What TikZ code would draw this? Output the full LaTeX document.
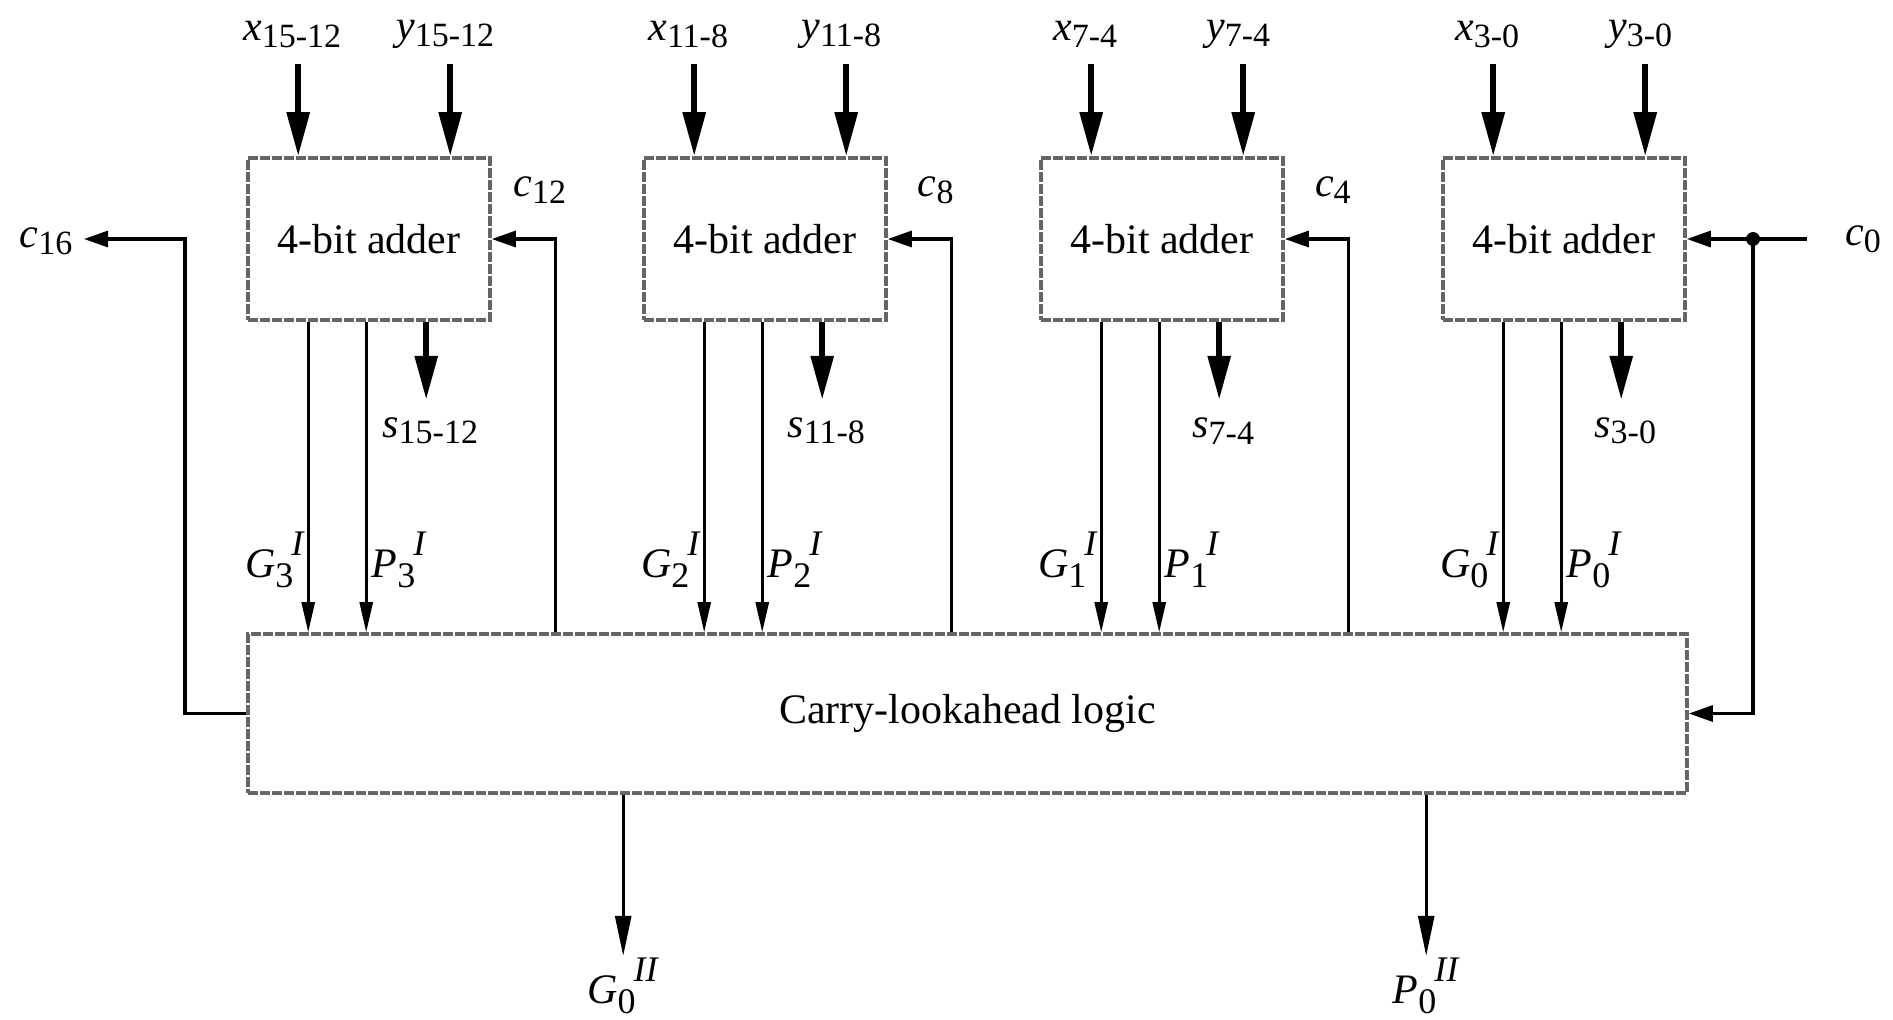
\documentclass[tikz,border=0pt]{standalone}
\usepackage{fontspec}
\setmainfont{Liberation Serif}
\usetikzlibrary{arrows.meta,calc}
\newcommand\subx[1]{\raisebox{-0.35ex}{\fontsize{17}{17}\selectfont #1}}
\newcommand\lab[2]{\textit{#1}\subx{#2}}
\newcommand\gp[3]{\textit{#1}\raisebox{-0.55ex}{\fontsize{18}{18}\selectfont #2}\kern-1pt\raisebox{1.15ex}{\fontsize{18}{18}\selectfont\textit{#3}}}
\begin{document}
\begin{tikzpicture}[x=0.5pt,y=-0.5pt,
  every node/.style={font=\fontsize{21}{25}\selectfont, inner sep=0pt},
  adder/.style={draw=black!60, line width=1.8pt, dash pattern=on 5pt off 1pt, minimum width=121pt, minimum height=81pt},
  cla/.style={adder, minimum width=719.5pt, minimum height=79.5pt},
  bigarrow/.style={line width=3pt, -{Triangle[length=22pt,width=11pt]}},
  thinarrow/.style={line width=1.3pt, -{Triangle[length=15pt,width=6.5pt]}},
  carryarrow/.style={line width=1.6pt, -{Triangle[length=12pt,width=8pt]}},
  outarrow/.style={line width=1.4pt, -{Triangle[length=20pt,width=8pt]}}]
\useasboundingbox (0,0) rectangle (1893,1019);

\node[adder] (b1) at (369,239) {4-bit adder};
\node[adder] (b2) at (765,239) {4-bit adder};
\node[adder] (b3) at (1162,239) {4-bit adder};
\node[adder] (b4) at (1564,239) {4-bit adder};
\node[cla] (cla) at (967.5,713.5) {Carry-lookahead logic};

\foreach \i/\t/\n in {1/15-12/3,2/11-8/2,3/7-4/1,4/3-0/0} {
  % inputs
  \coordinate (xa\i) at ($(b\i.north west)+(52,-92)$);
  \coordinate (ya\i) at ($(b\i.north west)+(204,-92)$);
  \node (xl\i) at ($(b\i.north west)+(46,-122)$) {\lab{x}{\t}};
  \node (yl\i) at ($(b\i.north west)+(199,-122)$) {\lab{y}{\t}};
  \draw[bigarrow] (xa\i) -- (xa\i |- b\i.north);
  \draw[bigarrow] (ya\i) -- (ya\i |- b\i.north);
  % outputs
  \coordinate (g\i) at ($(b\i.south west)+(62,0)$);
  \coordinate (p\i) at ($(b\i.south west)+(120,0)$);
  \coordinate (s\i) at ($(b\i.south west)+(180,0)$);
  \draw[thinarrow] (g\i) -- (g\i |- cla.north);
  \draw[thinarrow] (p\i) -- (p\i |- cla.north);
  \draw[bigarrow] (s\i) -- ++(0,78);
  \node (sl\i) at ($(s\i)+(4,109)$) {\lab{s}{\t}};
  \node[anchor=east] (gl\i) at ($(g\i)+(-3,238)$) {\gp{G}{\n}{I}};
  \node[anchor=west] (pl\i) at ($(p\i)+(5,238)$) {\gp{P}{\n}{I}};
}

% carries between adders
\foreach \i/\c in {1/12,2/8,3/4} {
  \coordinate (c\i) at ($(b\i.east)+(64,0)$);
  \draw[carryarrow] (c\i |- cla.north) -- (c\i) -- (b\i.east);
  \node (cl\i) at ($(b\i.east)+(48,-49)$) {\lab{c}{\c}};
}

% c16
\node (c16l) at (46,241) {\lab{c}{16}};
\coordinate (c16k) at (185,239);
\coordinate (c16t) at (84,239);
\draw[carryarrow] (cla.west) -| (c16k) -- (c16t);

% c0
\node (c0l) at (1863,239) {\lab{c}{0}};
\coordinate (c0s) at (1807,239);
\coordinate (c0d) at (1753,239);
\draw[carryarrow] (c0s) -- (b4.east);
\fill (c0d) circle (3.5pt);
\draw[carryarrow] (c0d) |- (cla.east);

% group outputs
\coordinate (G2c) at ($(cla.south west)+(377,0)$);
\coordinate (P2c) at ($(cla.south west)+(1180,0)$);
\draw[outarrow] (G2c) -- ++(0,161);
\draw[outarrow] (P2c) -- ++(0,161);
\node (G2l) at ($(G2c)+(0,191)$) {\gp{G}{0}{II}};
\node (P2l) at ($(P2c)+(0,191)$) {\gp{P}{0}{II}};
\end{tikzpicture}
\end{document}
